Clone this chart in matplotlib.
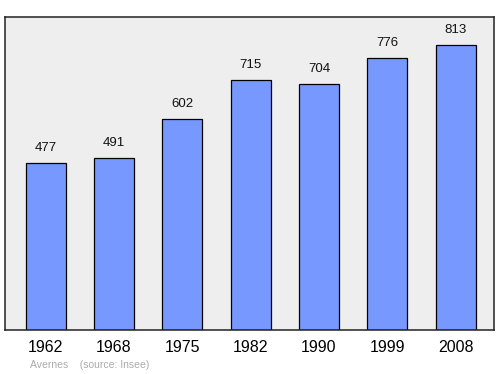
import matplotlib
matplotlib.use("Agg")
import matplotlib.pyplot as plt

plt.rcParams["font.family"] = ["Liberation Sans", "DejaVu Sans"]

years = ["1962", "1968", "1975", "1982", "1990", "1999", "2008"]
population = [477, 491, 602, 715, 704, 776, 813]

fig = plt.figure(figsize=(5.0, 3.74), dpi=100)
ax = fig.add_axes([5 / 500, 1 - 330 / 374, 489 / 500, 313 / 374])
ax.set_facecolor("#eeeeee")

x = range(len(years))
ax.bar(x, population, width=0.585, color="#7799ff", edgecolor="black", linewidth=0.9)
for xi, v in zip(x, population):
    ax.annotate(str(v), (xi, v), xytext=(0, 6.5), textcoords="offset points",
                ha="center", va="bottom", fontsize=9.5, color="#111111")

ax.set_xlim(-0.593, 6.56)
ax.set_ylim(0, max(population) * 1.1)
ax.set_xticks(list(x))
ax.set_xticklabels(years, fontsize=11.5)
ax.set_yticks([])
ax.tick_params(axis="x", length=0, pad=7.5)
for s in ax.spines.values():
    s.set_color("#222222")
    s.set_linewidth(1.1)

fig.text(30 / 500, 1 - 365 / 374, "Avernes    (source: Insee)", fontsize=7.5,
         color="#aaaaaa", ha="left", va="center")

fig.savefig("out.png", dpi=100)
